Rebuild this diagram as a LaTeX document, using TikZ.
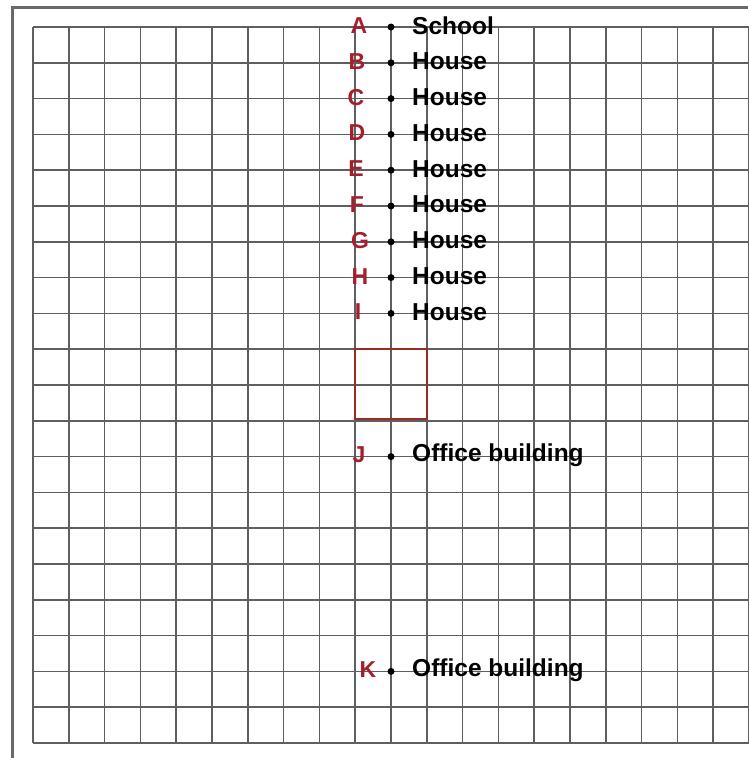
\documentclass[tikz,border=0pt]{standalone}
\usepackage{fontspec}
\setmainfont{Liberation Sans}
\definecolor{lab}{RGB}{165,30,45}
\definecolor{boxc}{RGB}{150,45,40}
\definecolor{gridc}{RGB}{95,95,95}
\definecolor{framec}{RGB}{105,105,105}
\begin{document}
\begin{tikzpicture}[x=1pt,y=-1pt,
  gridline/.style={draw=gridc,line width=1.6pt},
  letter/.style={text=lab,font=\fontsize{23}{23}\selectfont\bfseries,inner sep=0pt},
  place/.style={anchor=west,font=\fontsize{24.5}{24.5}\selectfont\bfseries,inner sep=0pt},
  pt/.style={circle,fill=black,inner sep=0pt,minimum size=7pt}]
\useasboundingbox (0,0) rectangle (748,758);
\fill[white] (0,0) rectangle (748,758);
% frame
\draw[framec,line width=3pt] (12,758) -- (12,7) -- (748,7);
% grid
\foreach \k in {0,...,20} {
  \draw[gridline] (33,27+35.8*\k) -- (749,27+35.8*\k);
}
\foreach \k in {0,...,20} {
  \draw[gridline] (33+35.8*\k,27) -- (33+35.8*\k,743);
}
% box
\draw[boxc,line width=2.2pt] (355,349) rectangle (427,419);
% points
\foreach \n/\r/\lx/\t in {A/0/359/School,B/1/357/House,C/2/356/House,D/3/357/House,E/4/356/House,F/5/357/House,G/6/360/House,H/7/360/House,I/8/358/House,J/12/359/Office building,K/18/368/Office building} {
  \node[pt] (p\n) at (391,27+35.8*\r) {};
  \node[letter] (l\n) at (\lx,25.5+35.8*\r) {\n};
  \node[place] (t\n) at (412,25.5+35.8*\r) {\t};
}
\end{tikzpicture}
\end{document}
